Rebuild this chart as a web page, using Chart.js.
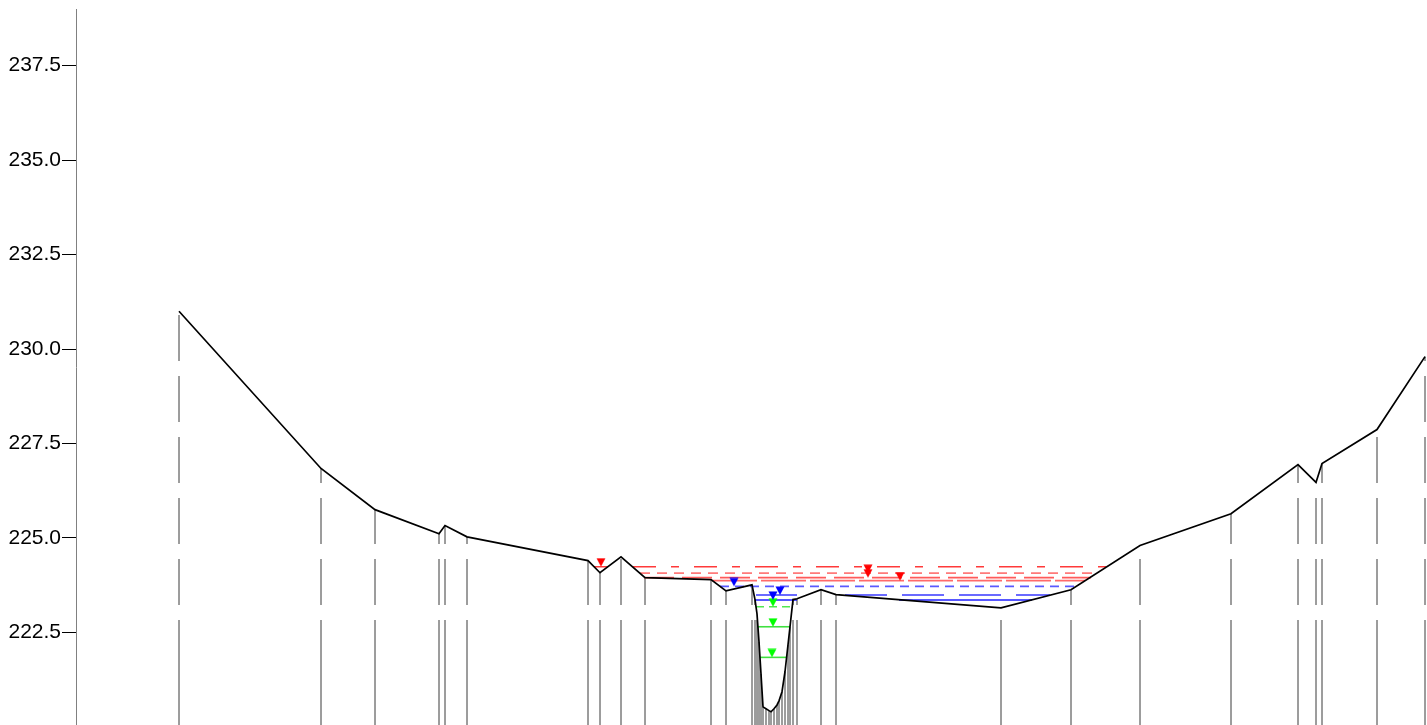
<!DOCTYPE html>
<html>
<head>
<meta charset="utf-8">
<script src="https://cdn.jsdelivr.net/npm/chart.js@4.4.0/dist/chart.umd.min.js"></script>
<style>
  html, body { margin: 0; padding: 0; background: #ffffff; overflow: hidden; }
  #wrap { width: 1427px; height: 725px; }
</style>
</head>
<body>
<div id="wrap"><canvas id="xsChart" width="1427" height="725"></canvas></div>
<script>
// ---- cross section data (station, elevation) ----
const groundSta = [103, 245, 299, 363, 369, 391, 512, 524, 545, 569, 635, 650,
  676, 679, 681, 683, 685, 687, 690, 693, 695, 698, 701, 703, 706, 709, 712, 714, 717, 721,
  745, 760, 925, 995, 1064, 1155, 1222, 1240, 1246, 1301, 1349];
const groundElev = [231.00, 226.84, 225.75, 225.11, 225.33, 225.03, 224.40, 224.08, 224.50, 223.95, 223.90, 223.60,
  223.76, 223.37, 222.99, 222.25, 221.40, 220.53, 220.48, 220.43, 220.40, 220.48, 220.58, 220.69, 220.93, 221.46, 222.17, 222.65, 223.37, 223.39,
  223.63, 223.50, 223.15, 223.63, 224.80, 225.64, 226.94, 226.47, 226.97, 227.87, 229.80];

// water surface profiles: elevation + wetted reaches [from, to]
const wsElev = [224.24, 224.07, 223.95, 223.87, 223.72, 223.49, 223.36, 223.18, 222.65, 221.84];
const wsReaches = [
  [[518, 532], [557, 1031]],
  [[564, 1021]],
  [[568, 1015]],
  [[636, 1009]],
  [[644, 1000]],
  [[680, 721], [769, 974]],
  [[679, 721], [823, 956]],
  [[680, 716]],
  [[682, 714]],
  [[684, 711]],
];
const wsColor = ["#ff3a3a", "#ff7a7a", "#ff5a5a", "#ff6a6a", "#5a5aff", "#3a3aff", "#2020ff", "#50e850", "#40e040", "#40e040"];
const wsDash = [[23, 15, 8, 15], [10, 7], [30, 8], [45, 4], [9, 6], [42, 15], [], [8, 5], [], []];

// water surface markers
const redMarkSta = [525, 792, 792, 824];
const redMarkElev = [224.24, 224.07, 223.95, 223.87];
const blueMarkSta = [658, 704, 697];
const blueMarkElev = [223.72, 223.49, 223.36];
const greenMarkSta = [697, 697, 696];
const greenMarkElev = [223.18, 222.65, 221.84];

const yTicks = [222.5, 225.0, 227.5, 230.0, 232.5, 235.0, 237.5];
const Y_MIN = 220.05, Y_MAX = 239;

Chart.defaults.font.family = "'Liberation Sans', Arial, sans-serif";

/* ---- helpers ---- */

// down triangle with its tip at the canvas centre
function makeTriangle(color) {
  const c = document.createElement("canvas");
  c.width = 10;
  c.height = 18;
  const g = c.getContext("2d");
  g.fillStyle = color;
  g.beginPath();
  g.moveTo(0.5, 0.5);
  g.lineTo(9.5, 0.5);
  g.lineTo(5, 9);
  g.closePath();
  g.fill();
  return c;
}

function markers(sta, elev, color) {
  return {
    data: sta.map((s, i) => ({ x: s, y: elev[i] })),
    showLine: false,
    pointStyle: makeTriangle(color),
    pointRadius: 5,
    order: 0,
  };
}

// drop lines: from the plot bottom up to every ground point
const dropData = [];
groundSta.forEach((s, i) => {
  dropData.push({ x: s, y: Y_MIN }, { x: s, y: groundElev[i] }, { x: s, y: null });
});
const dropDash = [105, 15];
for (let k = 0; k < 11; k++) dropDash.push(46, 15);

const datasets = [];

wsElev.forEach((el, i) => {
  const pts = [];
  wsReaches[i].forEach(([a, b]) => {
    pts.push({ x: a, y: el }, { x: b, y: el }, { x: b, y: null });
  });
  datasets.push({
    data: pts,
    borderColor: wsColor[i],
    borderWidth: 1.6,
    borderDash: wsDash[i],
    pointRadius: 0,
    order: 2,
  });
});

datasets.push({
  data: groundSta.map((s, i) => ({ x: s, y: groundElev[i] })),
  borderColor: "#000000",
  borderWidth: 1.7,
  pointRadius: 0,
  order: 1,
});

datasets.push({
  data: dropData,
  borderColor: "#3a3a3a",
  borderWidth: 1,
  borderDash: dropDash,
  pointRadius: 0,
  order: 3,
});

datasets.push(markers(redMarkSta, redMarkElev, "#ff0000"));
datasets.push(markers(blueMarkSta, blueMarkElev, "#0000ff"));
datasets.push(markers(greenMarkSta, greenMarkElev, "#00ff00"));

new Chart(document.getElementById("xsChart"), {
  type: "line",
  data: { datasets },
  options: {
    responsive: false,
    animation: false,
    devicePixelRatio: 1,
    spanGaps: false,
    layout: { autoPadding: false, padding: { top: 9, right: 0, bottom: 0, left: 0 } },
    plugins: { legend: { display: false }, tooltip: { enabled: false } },
    elements: { line: { tension: 0 } },
    scales: {
      x: { type: "linear", min: 0, max: 1351, display: false },
      y: {
        type: "linear",
        min: Y_MIN,
        max: Y_MAX,
        afterFit: (scale) => {
          scale.width = 76;
          scale.paddingTop = 0;
          scale.paddingBottom = 0;
        },
        afterBuildTicks: (scale) => { scale.ticks = yTicks.map((v) => ({ value: v })); },
        grid: {
          drawOnChartArea: false,
          drawTicks: true,
          tickLength: 14,
          tickColor: "#000000",
        },
        border: { display: true, color: "#808080", width: 1 },
        ticks: {
          color: "#000000",
          padding: 1,
          font: { size: 21 },
          callback: (v) => Number(v).toFixed(1),
        },
      },
    },
  },
});
</script>
</body>
</html>
